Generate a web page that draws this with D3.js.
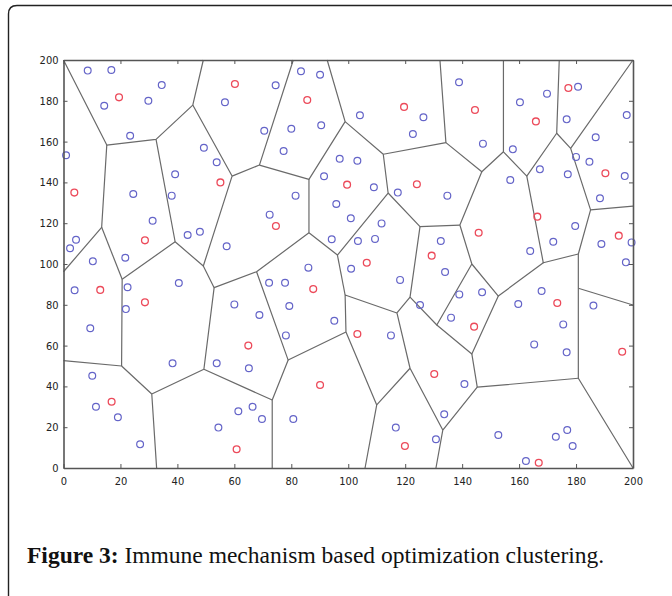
<!DOCTYPE html>
<html>
<head>
<meta charset="utf-8">
<script src="https://cdn.jsdelivr.net/npm/d3@7"></script>
<style>
  body { margin: 0; background: #fff; }
  .tick text { font-family: "Liberation Sans Narrow", "DejaVu Sans Condensed", "Liberation Sans", sans-serif; font-size: 11px; fill: #222; }
</style>
</head>
<body>
<div class="canvas"></div>
<script>
const xTicks = [0, 20, 40, 60, 80, 100, 120, 140, 160, 180, 200];
const yTicks = [0, 20, 40, 60, 80, 100, 120, 140, 160, 180, 200];

// samples (blue)
const bluePoints = [
  [8.5,194.8],[16.8,195.1],[34.5,187.7],[14.3,177.6],[29.8,180.0],[23.4,162.9],[0.9,153.3],
  [49.3,157.0],[53.8,149.9],[39.2,144.0],[24.5,134.3],[38.0,133.5],[56.7,179.3],[74.5,187.6],
  [83.4,194.5],[90.1,192.8],[70.5,165.3],[80.0,166.3],[90.5,168.0],[77.3,155.4],[104.1,172.9],
  [126.4,171.9],[122.7,163.7],[97.0,151.6],[103.2,150.6],[91.5,143.0],[109.0,137.6],[117.4,135.0],
  [81.5,133.5],[138.9,189.1],[147.3,159.0],[160.3,179.3],[169.8,183.5],[180.7,186.9],[176.7,170.9],
  [197.8,173.0],[186.9,162.1],[157.8,156.2],[180.0,152.5],[184.7,150.1],[197.1,143.1],[167.3,146.4],
  [177.1,144.0],[156.9,141.2],[134.8,133.5],[188.4,132.2],[31.3,121.2],[43.6,114.2],[47.9,115.8],
  [57.3,108.7],[4.4,111.9],[2.3,107.7],[10.3,101.3],[21.7,103.1],[3.9,87.1],[22.5,88.6],[21.9,77.9],
  [40.5,90.7],[60.0,80.2],[9.4,68.5],[72.4,124.2],[95.8,129.4],[100.9,122.4],[111.7,119.9],
  [94.2,112.1],[103.4,111.3],[109.4,112.3],[101.0,97.7],[118.2,92.2],[86.0,98.2],[72.2,90.8],
  [77.8,90.8],[79.3,79.4],[68.8,75.0],[95.1,72.2],[78.1,65.0],[115.0,65.0],[125.2,79.9],
  [132.5,111.3],[134.0,96.1],[139.0,85.1],[147.0,86.1],[136.1,73.7],[179.7,118.6],[172.0,110.9],
  [163.9,106.4],[188.9,109.8],[199.5,110.6],[197.5,100.8],[167.9,86.8],[159.7,80.4],[186.1,79.6],
  [175.5,70.4],[38.3,51.3],[53.8,51.3],[10.1,45.2],[11.4,30.0],[19.1,24.9],[26.9,11.6],[54.4,19.8],
  [61.4,27.8],[65.1,48.9],[66.4,30.0],[69.7,24.0],[80.7,24.0],[116.7,19.8],[165.3,60.6],[176.7,56.7],
  [140.8,41.2],[133.7,26.3],[130.8,14.1],[152.7,16.2],[172.9,15.3],[176.9,18.6],[178.8,10.8],[162.4,3.4]
];

// cluster centres (red)
const redPoints = [
  [19.5,181.7],[3.8,135.0],[55.1,140.0],[60.2,188.2],[85.6,180.4],[119.6,177.0],[99.6,138.9],
  [124.1,139.1],[144.5,175.5],[165.9,169.9],[177.3,186.3],[190.3,144.5],[28.6,111.6],[12.9,87.3],
  [28.6,81.2],[74.6,118.6],[106.5,100.6],[87.7,87.7],[103.2,65.7],[145.8,115.3],[129.3,104.1],
  [144.2,69.3],[166.4,123.2],[195.0,113.9],[173.4,80.9],[16.9,32.5],[60.8,9.2],[64.9,60.0],
  [90.1,40.7],[119.9,10.8],[196.2,57.0],[130.2,46.1],[166.9,2.6]
];

// cell boundaries, as polylines in data units
const cellEdges = [
  [[0,200],[15.2,158.3],[32.5,161.1],[45.4,177.9],[49.1,200]],
  [[15.2,158.3],[13.4,118],[0,96.2]],
  [[32.5,161.1],[39.2,110.9],[49.1,99],[59.2,143.1],[45.4,177.9]],
  [[59.2,143.1],[68.8,148.5],[80.7,200]],
  [[68.8,148.5],[86.2,141.5],[98.9,169.8],[92.6,200]],
  [[86.2,141.5],[86.2,115.3],[96.2,104.4],[114,134.8],[112.3,153.8],[98.9,169.8]],
  [[112.3,153.8],[134.3,159.5],[132.2,200]],
  [[134.3,159.5],[146.9,145.2],[154.5,155],[154.5,200]],
  [[154.5,155],[162.7,143.1],[173.2,164.1],[174.1,200]],
  [[173.2,164.1],[178.1,156.7],[200,200]],
  [[178.1,156.7],[185.1,126.5],[200,128.4]],
  [[185.1,126.5],[180.8,104.9],[180.8,88.1],[180.8,44],[200,0]],
  [[180.8,88.1],[200,79.9]],
  [[162.7,143.1],[168.5,100.6],[180.8,104.9]],
  [[168.5,100.6],[152.7,84.3],[143.4,100],[139.2,119.1],[146.9,145.2]],
  [[139.2,119.1],[125.2,118.3],[114,134.8]],
  [[125.2,118.3],[121.7,83.8],[131.1,70.1],[143.4,100]],
  [[152.7,84.3],[143.4,55.9],[131.1,70.1]],
  [[143.4,55.9],[145.3,39.6],[180.8,44]],
  [[145.3,39.6],[133.2,18.6],[130.8,0]],
  [[133.2,18.6],[121.7,48.9],[117.1,76],[121.7,83.8]],
  [[121.7,48.9],[110,30.9],[105.9,0]],
  [[110,30.9],[99.2,66.7],[98.9,84.8],[117.1,76]],
  [[98.9,84.8],[96.2,104.4]],
  [[86.2,115.3],[67.8,96.2],[52.9,88.4],[49.1,99]],
  [[67.8,96.2],[78.9,52.9],[99.2,66.7]],
  [[78.9,52.9],[73.3,33.3],[73.3,0]],
  [[73.3,33.3],[49.3,48.4],[52.9,88.4]],
  [[49.3,48.4],[31,36.3],[32.7,0]],
  [[31,36.3],[20.4,50],[0,52.6]],
  [[20.4,50],[20.6,92.5],[39.2,110.9]],
  [[20.6,92.5],[13.4,118]]
];

const width = 672, height = 596;

const svg = d3.select(".canvas").append("svg")
  .attr("width", width)
  .attr("height", height);

svg.append("rect").attr("width", width).attr("height", height).attr("fill", "#fff");

// page frame
svg.append("path")
  .attr("d", "M8.5,600 L8.5,14 Q8.5,5.5 17,5.5 L680,5.5")
  .attr("fill", "none")
  .attr("stroke", "#222")
  .attr("stroke-width", 1.4);

const x = d3.scaleLinear().domain([0, 200]).range([63.5, 633]);
const y = d3.scaleLinear().domain([0, 200]).range([468, 60]);

const line = d3.line().x(d => x(d[0])).y(d => y(d[1]));

svg.append("g")
  .selectAll("path")
  .data(cellEdges)
  .enter()
  .append("path")
  .attr("d", line)
  .attr("fill", "none")
  .attr("stroke", "#6a6a6a")
  .attr("stroke-width", 1.2)
  .attr("stroke-linejoin", "round");

svg.append("g")
  .selectAll("circle")
  .data(bluePoints)
  .enter()
  .append("circle")
  .attr("cx", d => x(d[0]))
  .attr("cy", d => y(d[1]))
  .attr("r", 3.4)
  .attr("fill", "none")
  .attr("stroke", "#6464c8")
  .attr("stroke-width", 1.2);

svg.append("g")
  .selectAll("circle")
  .data(redPoints)
  .enter()
  .append("circle")
  .attr("cx", d => x(d[0]))
  .attr("cy", d => y(d[1]))
  .attr("r", 3.4)
  .attr("fill", "none")
  .attr("stroke", "#ec4a5a")
  .attr("stroke-width", 1.3);

// matlab style box with inward ticks
const axisColor = "#555";

const axisBottomG = svg.append("g")
  .attr("transform", `translate(0,${y(0)})`)
  .call(d3.axisBottom(x).tickValues(xTicks).tickSizeInner(-4).tickSizeOuter(0).tickPadding(9));

const axisLeftG = svg.append("g")
  .attr("transform", `translate(${x(0)},0)`)
  .call(d3.axisLeft(y).tickValues(yTicks).tickSizeInner(-4).tickSizeOuter(0).tickPadding(5));

const axisTopG = svg.append("g")
  .attr("transform", `translate(0,${y(200)})`)
  .call(d3.axisTop(x).tickValues(xTicks).tickSizeInner(-4).tickSizeOuter(0).tickFormat(""));

const axisRightG = svg.append("g")
  .attr("transform", `translate(${x(200)},0)`)
  .call(d3.axisRight(y).tickValues(yTicks).tickSizeInner(-4).tickSizeOuter(0).tickFormat(""));

[axisBottomG, axisLeftG, axisTopG, axisRightG].forEach(g => {
  g.select(".domain").attr("stroke", axisColor).attr("stroke-width", 1.6);
  g.selectAll(".tick line").attr("stroke", axisColor).attr("stroke-width", 1);
});

// caption
const caption = svg.append("text")
  .attr("x", 27)
  .attr("y", 563)
  .attr("font-family", "'Liberation Serif', 'DejaVu Serif', serif")
  .attr("font-size", 23.5)
  .attr("fill", "#111");

caption.append("tspan").attr("font-weight", "bold").text("Figure 3:");
caption.append("tspan").text(" Immune mechanism based optimization clustering.");
</script>
</body>
</html>
